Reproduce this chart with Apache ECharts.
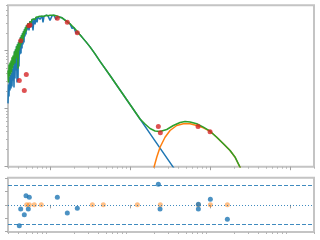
<!DOCTYPE html>
<html><head><meta charset="utf-8">
<script src="https://cdn.jsdelivr.net/npm/echarts@6/dist/echarts.min.js"></script>
<style>html,body{margin:0;padding:0;background:#fff}#c{width:320px;height:240px}</style>
</head><body><div id="c"></div>
<script>
// Stellar model (blue)
const blueLam = [0.3000,0.3043,0.3088,0.3132,0.3178,0.3224,0.3271,0.3318,0.3366,0.3415,0.3464,0.3515,0.3565,0.3617,0.3670,0.3723,0.3777,0.3831,0.3887,0.3943,0.4000,0.4058,0.4117,0.4177,0.4237,0.4299,0.4361,0.4424,0.4489,0.4554,0.4620,0.4686,0.4755,0.4823,0.4893,0.4964,0.5036,0.5109,0.5183,0.5335,0.5490,0.5651,0.5816,0.5986,0.6160,0.6340,0.6525,0.6716,0.6912,0.7114,0.7536,0.7981,0.8215,0.8454,0.8955,0.9487,1.005,1.064,1.128,1.194,1.265,1.340,1.420,1.504,1.593,1.687,1.787,1.893,2.006,2.124,2.250,2.384,2.599,2.833,3.178,3.670,4.238,5.652,7.536,10.05,13.40,17.87,23.83,34.95,40.0];
const blueFlux = [1.23,2.60,1.62,3.58,2.05,3.87,2.22,4.19,2.40,4.91,3.05,5.54,2.31,9.65,3.30,10.45,4.54,11.78,2.82,12.75,3.05,13.80,5.32,14.95,8.57,16.84,8.92,18.23,10.88,19.74,12.75,21.37,13.80,23.14,17.52,25.05,18.97,27.12,22.24,29.36,22.24,31.79,25.05,34.42,22.24,35.81,28.22,37.26,30.55,38.0,34.42,39.5,30.55,38.77,40.34,39.5,33.08,39.5,40.34,34.42,38.77,37.26,36.5,34.42,32.4,30.55,28.8,24.07,24.56,19.74,20.54,18.6,16.18,14.08,11.55,8.74,6.50,3.72,2.09,1.176,0.662,0.372,0.209,0.0973,0.0743];
// Dust model (orange)
const dustLam = [19.49,21.67,23.83,27.52,31.78,38.5,46.6,56.5,68.5,82.9,100.5,121.8,147.4,178.7,206.4,238.3,252.5];
const dustFlux = [0.0857,0.1455,0.2163,0.3218,0.420,0.512,0.548,0.548,0.512,0.467,0.408,0.322,0.2475,0.190,0.1455,0.0975,0.075];
// Total model (green)
const totLam = [0.3000,0.3043,0.3088,0.3132,0.3178,0.3224,0.3271,0.3318,0.3366,0.3415,0.3464,0.3515,0.3565,0.3617,0.3670,0.3723,0.3777,0.3831,0.3887,0.3943,0.4000,0.4058,0.4117,0.4177,0.4237,0.4299,0.4361,0.4424,0.4489,0.4554,0.4620,0.4686,0.4755,0.4823,0.4893,0.4964,0.5036,0.5109,0.5183,0.5335,0.5490,0.5651,0.5816,0.5986,0.6160,0.6340,0.6525,0.6716,0.6912,0.7114,0.7536,0.7981,0.8454,0.8955,0.9487,1.005,1.064,1.128,1.194,1.265,1.340,1.420,1.504,1.593,1.687,1.787,1.893,2.006,2.124,2.250,2.384,2.599,2.833,3.178,3.670,4.238,5.652,7.536,10.05,13.40,15.47,17.87,20.64,23.83,28.9,34.95,42.4,48.9,56.5,68.5,82.9,100.5,121.8,147.4,178.7,206.4,238.3,252.5];
const totFlux = [4.54,2.82,5.76,3.58,6.24,3.87,6.75,4.19,7.61,4.91,8.23,5.54,7.91,9.65,5.99,10.45,7.31,11.78,7.91,12.75,4.91,13.80,10.05,14.95,11.32,16.84,12.75,18.23,13.80,19.74,14.95,21.37,17.52,23.14,19.74,25.05,21.37,27.12,24.07,29.36,26.06,31.79,29.36,34.42,32.4,35.81,34.42,37.26,35.81,38.0,38.77,39.5,38.77,40.34,39.5,40.34,39.5,40.34,38.77,38.77,37.26,36.5,34.42,32.4,30.55,28.8,26.6,24.56,22.7,20.54,18.6,16.18,14.08,11.55,8.74,6.50,3.72,2.09,1.176,0.662,0.543,0.454,0.412,0.403,0.437,0.512,0.577,0.600,0.588,0.548,0.479,0.408,0.322,0.248,0.190,0.146,0.098,0.075];
// Photometry (red)
const photLam = [0.4153,0.4323,0.4796,0.508,0.5443,0.5651,1.24,1.653,2.204,22.69,24.04,71.1,100.5];
const photFlux = [3.05,14.77,2.05,3.87,26.8,27.44,35.81,30.55,20.3,0.492,0.3833,0.492,0.3986];
// Residuals
const resLam = [0.4153,0.4323,0.4796,0.5036,0.538,0.5538,1.24,1.653,2.204,22.69,23.83,71.8,71.8,101.4,165.3];
const resVal = [-1.58,-0.32,-0.75,0.68,-0.32,0.58,0.58,-0.62,-0.25,1.56,-0.32,0.05,-0.32,0.43,-1.08];
const res2Lam = [0.514,0.554,0.640,0.782,3.40,4.66,12.4,24.0,71.8,101.4,165.3];
const res2Val = [0,0,0,0,0,0,0,0,0,0,0];
const resLimits = [1.5,-1.5];
const resZero = 0;
// Ticks
const xMajor = [1,10,100,1000];
const xMinor = [0.3,0.4,0.5,0.6,0.7,0.8,0.9,2,3,4,5,6,7,8,9,20,30,40,50,60,70,80,90,200,300,400,500,600,700,800,900,2000];
const yMajor = [0.1,1,10];
const yMinor = [0.2,0.3,0.4,0.5,0.6,0.7,0.8,0.9,2,3,4,5,6,7,8,9,20,30,40,50,60];
const resTicks = [-2,-1,0,1,2];

const zip = (a,b) => a.map((v,i)=>[v,b[i]]);
const frame = '#c4c4c4';
const guide = '#1f77b4';
function ax(type, grid, min, max, ticks, len, color, pos){
  return {type:type, gridIndex:grid, min:min, max:max, position:pos, offset:0,
    axisLine:{show:false}, splitLine:{show:false}, axisLabel:{show:false},
    axisTick:{show:true, inside:false, length:len, customValues:ticks, lineStyle:{color:color,width:1}}};
}
const chart = echarts.init(document.getElementById('c'), null, {renderer:'canvas'});
chart.setOption({
  animation:false,
  grid:[
    {left:8, top:5.3, width:306, height:161.4, show:true, borderColor:frame, borderWidth:2, backgroundColor:'transparent', containLabel:false, outerBoundsMode:'none'},
    {left:8, top:177.7, width:306, height:54.3, show:true, borderColor:frame, borderWidth:2, backgroundColor:'transparent', containLabel:false, outerBoundsMode:'none'}
  ],
  xAxis:[
    ax('log',0,0.3,2000,xMajor,3.5,'#a0a0a0','bottom'),
    ax('log',0,0.3,2000,xMinor,2,'#b4b4b4','bottom'),
    ax('log',1,0.3,2000,xMajor,3.5,'#a0a0a0','bottom'),
    ax('log',1,0.3,2000,xMinor,2,'#b4b4b4','bottom')
  ],
  yAxis:[
    ax('log',0,0.1,60,yMajor,3.5,'#a0a0a0','left'),
    ax('log',0,0.1,60,yMinor,2,'#b4b4b4','left'),
    ax('value',1,-2.05,2.05,resTicks,3,'#a8a8a8','left')
  ],
  series:[
    {type:'line', xAxisIndex:0, yAxisIndex:0, data:zip(blueLam,blueFlux), showSymbol:false, symbol:'none', lineStyle:{color:'#1f77b4', width:1.5}, clip:true},
    {type:'line', xAxisIndex:0, yAxisIndex:0, data:zip(dustLam,dustFlux), showSymbol:false, symbol:'none', lineStyle:{color:'#ff7f0e', width:1.5}, clip:true},
    {type:'line', xAxisIndex:0, yAxisIndex:0, data:zip(totLam,totFlux), showSymbol:false, symbol:'none', lineStyle:{color:'#2ca02c', width:1.5}, clip:true},
    {type:'scatter', xAxisIndex:0, yAxisIndex:0, data:zip(photLam,photFlux), symbolSize:5, itemStyle:{color:'#d62728'}, z:5},
    {type:'line', xAxisIndex:2, yAxisIndex:2, data:[], silent:true, z:1, color:guide,
      markLine:{silent:true, symbol:['none','none'], label:{show:false}, animation:false,
        lineStyle:{color:guide, width:1, type:[4,2], opacity:0.85},
        emphasis:{disabled:true},
        data:[
          {yAxis:resLimits[0]},
          {yAxis:resLimits[1]}
        ]}},
    {type:'line', xAxisIndex:2, yAxisIndex:2, data:[], silent:true, z:1, color:guide,
      markLine:{silent:true, symbol:['none','none'], label:{show:false}, animation:false,
        lineStyle:{color:guide, width:1.2, type:[1,2], opacity:0.85},
        emphasis:{disabled:true},
        data:[{yAxis:resZero}]}},
    {type:'scatter', xAxisIndex:2, yAxisIndex:2, data:zip(res2Lam,res2Val), symbolSize:5, itemStyle:{color:'#ff7f0e', opacity:0.5}, z:4},
    {type:'scatter', xAxisIndex:2, yAxisIndex:2, data:zip(resLam,resVal), symbolSize:5, itemStyle:{color:'#1f77b4'}, z:5}
  ]
});
</script></body></html>
